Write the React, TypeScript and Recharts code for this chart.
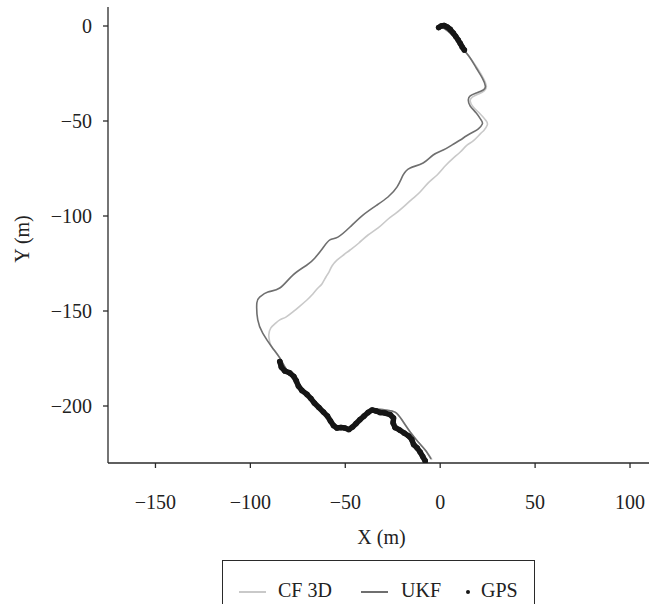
import { ScatterChart, Scatter, XAxis, YAxis, Legend, Label } from "recharts";

const FONT = '"Liberation Serif", "DejaVu Serif", serif';

// trajectories, in metres [x, y]
const cf3d: [number, number][] = [
  [0, -0.5], [2.6, -1.6], [6.3, -4.7], [9.5, -8.4], [12.1, -12.1], [15.8, -16.8],
  [19.5, -22.1], [22.7, -27.4], [24.3, -31.6], [23.2, -34.2], [20.1, -35.8],
  [16.9, -37.4], [15.8, -39.5], [17.4, -42.6], [21.1, -46.3], [24.3, -50.0],
  [24.8, -52.1], [23.2, -54.7], [21.1, -56.8], [17.4, -60.5], [14.3, -62.6],
  [10.6, -66.3], [6.9, -69.5], [2.6, -73.7], [-1.6, -78.4], [-6.3, -82.6],
  [-10.6, -87.4], [-14.8, -91.1], [-19.5, -95.3], [-23.8, -98.9], [-28.0, -102.1],
  [-32.7, -106.3], [-38.0, -110.0], [-42.8, -114.2], [-47.5, -117.9],
  [-51.7, -121.1], [-54.4, -123.2], [-57.0, -126.3], [-58.6, -129.5],
  [-60.2, -132.1], [-62.3, -135.8], [-64.4, -137.9], [-67.6, -141.6],
  [-70.2, -144.2], [-73.9, -147.4], [-77.6, -150.5], [-81.3, -153.2],
  [-84.5, -154.7], [-87.1, -156.8], [-89.2, -158.9], [-90.3, -162.6],
  [-89.8, -166.3], [-88.7, -168.9], [-84.5, -174.7], [-80.8, -181.1],
  [-76.6, -186.3], [-71.3, -193.2], [-66.0, -199.5], [-60.7, -204.7],
  [-55.4, -210.0], [-51.2, -212.1], [-46.5, -211.6], [-42.2, -207.4],
  [-38.0, -203.7], [-34.3, -201.6], [-29.0, -202.1], [-23.8, -203.2],
  [-20.1, -207.4], [-15.8, -213.7], [-11.6, -218.9], [-7.6, -223.4], [-4.3, -228.3],
];

const ukf: [number, number][] = [
  [0, -0.5], [2.6, -1.6], [6.3, -4.7], [9.5, -8.4], [12.1, -12.1], [15.8, -16.8],
  [19.0, -22.1], [22.2, -27.4], [23.8, -31.6], [22.7, -33.7], [19.0, -35.3],
  [15.8, -36.8], [14.8, -38.9], [15.8, -42.1], [19.0, -45.8], [21.6, -49.5],
  [22.2, -51.6], [20.1, -54.2], [17.4, -55.8], [13.7, -57.9], [10.6, -60.0],
  [6.3, -62.6], [1.6, -65.3], [-3.7, -67.9], [-9.0, -72.1], [-15.8, -74.7],
  [-19.5, -78.4], [-22.7, -84.7], [-27.5, -90.0], [-33.3, -94.2], [-40.7, -99.5],
  [-47.5, -105.8], [-53.9, -111.1], [-58.1, -112.6], [-61.8, -116.8],
  [-66.0, -122.1], [-70.2, -125.8], [-77.6, -131.1], [-84.5, -137.9],
  [-90.8, -140.0], [-95.0, -142.6], [-96.6, -145.8], [-96.1, -154.7],
  [-93.5, -161.6], [-88.7, -168.9], [-84.5, -174.7], [-80.8, -181.1],
  [-76.6, -186.3], [-71.3, -193.2], [-66.0, -199.5], [-60.7, -204.7],
  [-55.4, -210.0], [-51.2, -212.1], [-46.5, -211.6], [-42.2, -207.4],
  [-38.0, -203.7], [-34.3, -201.6], [-29.0, -202.1], [-23.8, -203.2],
  [-20.1, -207.4], [-15.8, -213.7], [-11.6, -218.9], [-7.9, -223.2], [-4.8, -227.9],
];

const gpsStart: [number, number][] = [
  [-0.8, -0.8], [0.5, 0], [2.1, 0.3], [3.7, -0.5], [5.3, -1.8], [6.9, -3.7],
  [8.2, -5.5], [9.5, -7.4], [10.6, -9.2], [11.6, -11.1], [12.7, -12.6],
];

const gpsEnd: [number, number][] = [
  [-84.5, -176.6], [-83.7, -179.5], [-81.8, -181.6], [-79.2, -182.6],
  [-77.1, -184.5], [-75.8, -186.8], [-74.7, -189.5], [-72.9, -191.8],
  [-70.2, -193.9], [-68.1, -196.1], [-66.3, -198.4], [-63.9, -200.8],
  [-61.5, -203.2], [-59.4, -205.3], [-57.8, -207.9], [-56.2, -210.3],
  [-54.4, -211.6], [-52.3, -211.3], [-50.2, -211.6], [-48.1, -212.4],
  [-46.2, -211.1], [-44.3, -209.2], [-42.2, -207.1], [-40.1, -205.3],
  [-38.0, -203.4], [-35.9, -202.1], [-33.8, -202.6], [-31.7, -203.4],
  [-29.0, -203.7], [-26.4, -204.5], [-24.6, -206.3], [-24.8, -208.9],
  [-23.8, -211.3], [-21.4, -212.6], [-19.0, -214.2], [-16.6, -215.8],
  [-15.0, -217.6], [-14.0, -220.3], [-12.1, -222.1], [-10.6, -224.2],
  [-9.2, -226.6], [-7.9, -228.9],
];

const xTicks = [-150, -100, -50, 0, 50, 100];
const yTicks = [0, -50, -100, -150, -200];

const seriesNames = ["CF 3D", "UKF", "GPS"];
const CF_COLOR = "#c9c9c9";
const UKF_COLOR = "#6f6f6f";
const GPS_COLOR = "#161616";
const AXIS_COLOR = "#2a2a2a";

const toPoints = (pts: [number, number][]) => pts.map(([x, y]) => ({ x, y }));
const fmt = (v: number) => String(v).replace("-", "\u2212");

const tickStyle = { fontFamily: FONT, fontSize: 20, fill: "#222" };

function LegendBox() {
  const text = { position: "absolute" as const, top: 18, lineHeight: "22px", whiteSpace: "nowrap" as const };
  const line = (color: string, left: number) => (
    <span
      style={{ position: "absolute", left, top: 30, width: 27, height: 1.6, background: color }}
    />
  );
  return (
    <div
      style={{
        boxSizing: "border-box",
        position: "relative",
        width: 313,
        height: 44,
        border: `1.3px solid ${AXIS_COLOR}`,
        borderBottom: "none",
        background: "#fff",
        fontFamily: FONT,
        fontSize: 20,
        color: "#222",
      }}
    >
      {line(CF_COLOR, 16)}
      <span style={{ ...text, left: 55 }}>{seriesNames[0]}</span>
      {line(UKF_COLOR, 138)}
      <span style={{ ...text, left: 178 }}>{seriesNames[1]}</span>
      <span
        style={{
          position: "absolute",
          left: 243,
          top: 29,
          width: 4,
          height: 4,
          borderRadius: 2,
          background: GPS_COLOR,
        }}
      />
      <span style={{ ...text, left: 258 }}>{seriesNames[2]}</span>
    </div>
  );
}

export default function App() {
  return (
    <div style={{ width: 657, height: 604 }}>
      <style>{"body{margin:0}"}</style>
      <ScatterChart width={657} height={604} margin={{ top: 7, right: 8, bottom: 0, left: 0 }}>
        <XAxis
          type="number"
          dataKey="x"
          domain={[-175, 110]}
          ticks={xTicks}
          tickFormatter={fmt}
          allowDataOverflow
          height={141}
          tickSize={5}
          tickMargin={27}
          tick={tickStyle}
          axisLine={{ stroke: AXIS_COLOR, strokeWidth: 1.3 }}
          tickLine={{ stroke: AXIS_COLOR, strokeWidth: 1.3 }}
          label={{
            value: "X (m)",
            position: "insideBottom",
            offset: 60,
            dx: 3,
            style: { fontFamily: FONT, fontSize: 20, fill: "#222" },
          }}
        />
        <YAxis
          type="number"
          dataKey="y"
          domain={[-230, 10]}
          ticks={yTicks}
          tickFormatter={fmt}
          allowDataOverflow
          width={108}
          tickSize={5}
          tickMargin={11}
          tick={tickStyle}
          axisLine={{ stroke: AXIS_COLOR, strokeWidth: 1.3 }}
          tickLine={{ stroke: AXIS_COLOR, strokeWidth: 1.3 }}
        >
          <Label
            content={(props: any) => {
              const vb = props.viewBox || { x: 0, y: 7, width: 108, height: 456 };
              const cx = vb.x + 29;
              const cy = vb.y + vb.height / 2 + 4;
              return (
                <text
                  x={cx}
                  y={cy}
                  transform={`rotate(-90 ${cx} ${cy})`}
                  textAnchor="middle"
                  style={{ fontFamily: FONT, fontSize: 20, fill: "#222" }}
                >
                  Y (m)
                </text>
              );
            }}
          />
        </YAxis>
        <Scatter
          name={seriesNames[0]}
          data={toPoints(cf3d)}
          line={{ stroke: CF_COLOR, strokeWidth: 1.6, strokeLinejoin: "round" }}
          lineJointType="natural"
          shape={() => <g />}
          isAnimationActive={false}
        />
        <Scatter
          name={seriesNames[1]}
          data={toPoints(ukf)}
          line={{ stroke: UKF_COLOR, strokeWidth: 1.6, strokeLinejoin: "round" }}
          lineJointType="natural"
          shape={() => <g />}
          isAnimationActive={false}
        />
        <Scatter
          name={seriesNames[2]}
          data={toPoints(gpsStart)}
          line={{ stroke: GPS_COLOR, strokeWidth: 5.5, strokeLinejoin: "round", strokeLinecap: "round" }}
          shape={(p: any) => <circle cx={p.cx} cy={p.cy} r={2.8} fill={GPS_COLOR} />}
          isAnimationActive={false}
        />
        <Scatter
          name={seriesNames[2]}
          data={toPoints(gpsEnd)}
          line={{ stroke: GPS_COLOR, strokeWidth: 5.5, strokeLinejoin: "round", strokeLinecap: "round" }}
          shape={(p: any) => <circle cx={p.cx} cy={p.cy} r={2.8} fill={GPS_COLOR} />}
          isAnimationActive={false}
        />
        <Legend
          layout="horizontal"
          verticalAlign="middle"
          align="center"
          wrapperStyle={{ left: 222, top: 560, width: 313, height: 44 }}
          content={() => <LegendBox />}
        />
      </ScatterChart>
    </div>
  );
}
